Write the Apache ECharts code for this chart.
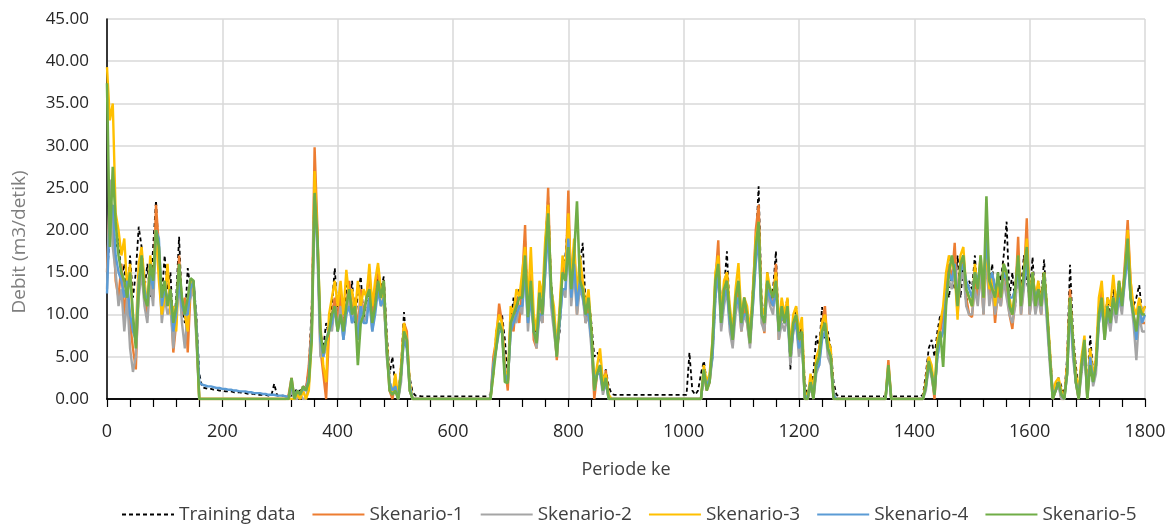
<!DOCTYPE html>
<html>
<head>
<meta charset="utf-8">
<script src="https://cdn.jsdelivr.net/npm/echarts@6/dist/echarts.min.js"></script>
<style>
  html, body { margin: 0; padding: 0; background: #fff; }
  #chart { width: 1172px; height: 526px; }
</style>
</head>
<body>
<div id="chart"></div>
<script>
// one value every 5 periods, 0 .. 1800
const step = 5;
const xTicks = [0, 200, 400, 600, 800, 1000, 1200, 1400, 1600, 1800];
const yTicks = [0, 5, 10, 15, 20, 25, 30, 35, 40, 45];

const training = [
    14, 20, 21, 18, 19, 14, 16, 11, 17, 12, 15, 20.4, 18, 13, 16, 12, 18, 23.5, 17, 12,
    17, 13, 15, 8, 12, 19.2, 11, 9, 15.5, 13, 14, 10, 3, 1.4, 1.3, 1.2, 1.2, 1.1, 1.1, 1.0,
    1.0, 0.9, 0.9, 0.9, 0.8, 0.8, 0.8, 0.7, 0.7, 0.6, 0.6, 0.6, 0.5, 0.5, 0.5, 0.5, 0.4, 0.4, 1.8, 0.4,
    0.4, 0.4, 0.3, 0.3, 0.4, 0.8, 1.2, 0.9, 1.5, 1.2, 3.5, 11, 26, 18, 8, 6, 9, 7.5, 11, 15.5,
    10, 12.5, 9, 13.5, 11, 14, 9, 12.5, 14.5, 9.5, 11.5, 13, 9, 12, 15, 13, 14.5, 8, 3, 5,
    1.5, 0.5, 4, 10.3, 6, 2.5, 0.8, 0.4, 0.4, 0.3, 0.3, 0.3, 0.3, 0.3, 0.3, 0.3, 0.3, 0.3, 0.3, 0.3,
    0.3, 0.3, 0.3, 0.3, 0.3, 0.3, 0.3, 0.3, 0.3, 0.3, 0.3, 0.3, 0.3, 0.5, 3, 8, 9, 10, 7, 2.5,
    9, 12, 10, 13, 11, 19, 10, 16, 9, 7, 12, 10, 18, 24, 14, 10, 6, 8, 15, 17,
    22, 13, 16, 12, 16, 18.5, 11, 12, 9, 5, 5.5, 5, 2, 3.5, 1.5, 0.6, 0.5, 0.5, 0.5, 0.5,
    0.5, 0.5, 0.5, 0.5, 0.5, 0.5, 0.5, 0.5, 0.5, 0.5, 0.5, 0.5, 0.5, 0.5, 0.5, 0.5, 0.5, 0.5, 0.5, 0.5,
    0.5, 0.5, 5.5, 1, 0.5, 1, 3, 4.5, 2, 3, 5, 12, 17, 11, 13, 17.5, 10, 6.5, 12, 14,
    9, 12, 10, 7, 13, 18, 25.2, 12, 9, 15, 11, 13, 17.5, 8, 11, 10, 12, 3.5, 9, 11,
    7, 9, 2, 0.5, 1, 3, 7.5, 6, 10.9, 7, 8, 6, 2, 0.5, 0.3, 0.3, 0.3, 0.3, 0.3, 0.3,
    0.3, 0.3, 0.3, 0.3, 0.3, 0.3, 0.3, 0.3, 0.3, 0.3, 0.3, 3, 0.5, 0.3, 0.3, 0.3, 0.3, 0.3, 0.3, 0.3,
    0.3, 0.3, 0.3, 0.5, 3, 6, 7, 5, 8, 10, 9, 14, 12, 15, 13, 17, 12, 16, 11, 14,
    13, 17, 12, 15, 11, 18, 13, 16, 12, 15, 14, 17, 21, 12, 15, 11, 16, 13, 17, 14,
    12, 16.8, 11, 14, 12, 16.5, 11, 6, 1, 1.5, 2.5, 1.5, 0.5, 5, 15.9, 8, 4, 1, 3, 6,
    1, 7.5, 3, 5, 11, 13, 9, 12, 10, 13, 11, 14, 12, 15, 18, 13, 11, 12, 13.5, 10,
    11
];

const skenario1 = [
    15, 24, 22, 14, 12, 16, 10, 13, 9, 6, 3.5, 14, 17, 12, 10, 15, 12, 23, 18, 10,
    14, 11, 13, 5.5, 9, 17, 10, 12, 5.5, 13, 14, 8, 0, 0, 0, 0, 0, 0, 0, 0,
    0, 0, 0, 0, 0, 0, 0, 0, 0, 0, 0, 0, 0, 0, 0, 0, 0, 0, 0, 0,
    0, 0, 0, 0.5, 2.5, 0, 1, 0.5, 1.5, 1, 4, 9, 29.8, 20, 6, 3, 0, 8, 10, 12,
    9, 13, 8, 11, 14, 10, 12, 8, 13, 10, 12, 15, 10, 13, 15.5, 12, 14, 6, 1, 0,
    2, 0, 3, 9, 8, 1, 0, 0, 0, 0, 0, 0, 0, 0, 0, 0, 0, 0, 0, 0,
    0, 0, 0, 0, 0, 0, 0, 0, 0, 0, 0, 0, 0, 0, 5, 7, 11.3, 9, 4, 1,
    10, 8, 12, 9, 14, 20.6, 9, 15, 7, 6, 13, 9, 17, 25, 12, 9, 4.6, 10, 16, 14,
    24.7, 12, 18, 10, 15, 13, 9, 11, 7, 0, 3, 4, 1, 3.4, 0, 0, 0, 0, 0, 0,
    0, 0, 0, 0, 0, 0, 0, 0, 0, 0, 0, 0, 0, 0, 0, 0, 0, 0, 0, 0,
    0, 0, 0, 0, 0, 0, 0, 3, 1, 2, 6, 14, 18.8, 9, 12, 15, 9, 7, 11, 13,
    8, 11, 9, 6.5, 12, 20, 23, 10, 7.8, 14, 12, 11, 16, 7, 10, 9, 11, 5, 8, 10,
    6, 8, 0, 0, 2, 0, 4, 5, 9, 11, 6, 5, 0, 0, 0, 0, 0, 0, 0, 0,
    0, 0, 0, 0, 0, 0, 0, 0, 0, 0, 0, 4.6, 0, 0, 0, 0, 0, 0, 0, 0,
    0, 0, 0, 0, 2, 5, 3, 0, 6, 8, 10, 13, 16, 14, 18.5, 11, 15, 17, 12, 10,
    9.7, 14, 12, 16, 10, 19, 12, 14, 9, 13, 11, 15, 13, 10, 8.3, 12, 19.2, 10, 14, 21.4,
    10, 14, 11, 13, 10, 15, 10, 5, 0, 1, 2, 0, 0, 4, 13, 6, 2, 0, 4, 7,
    0, 5, 2, 4, 10, 13, 8, 11, 9, 12, 10, 13, 11, 16, 21.2, 14, 10, 8, 11, 9,
    9
];

const skenario2 = [
    13, 26, 18, 15, 11, 13, 8, 12, 6, 3.2, 5, 12, 15, 11, 9, 14, 11, 19, 16, 9,
    12, 10, 11, 6, 10, 14, 9, 6, 11, 12, 13, 7, 0, 0, 0, 0, 0, 0, 0, 0,
    0, 0, 0, 0, 0, 0, 0, 0, 0, 0, 0, 0, 0, 0, 0, 0, 0, 0, 0, 0,
    0, 0, 0, 0, 1, 0, 0, 0.5, 0, 0, 2, 8, 25, 17, 5, 5, 6, 9, 8, 11,
    8, 11, 7, 10, 12, 9, 11, 7, 12, 9, 10, 12, 8, 11, 13, 11, 12, 5, 2, 1,
    1, 0, 2, 8, 6, 1, 0, 0, 0, 0, 0, 0, 0, 0, 0, 0, 0, 0, 0, 0,
    0, 0, 0, 0, 0, 0, 0, 0, 0, 0, 0, 0, 0, 0, 4, 6, 9, 8, 3, 2,
    8, 10, 9, 11, 10, 16, 8, 13, 8, 6, 10, 9, 15, 21, 11, 8, 5, 9, 13, 12,
    20, 11, 15, 10, 13, 12, 9, 10, 6, 1, 3, 3, 0.5, 2, 0, 0, 0, 0, 0, 0,
    0, 0, 0, 0, 0, 0, 0, 0, 0, 0, 0, 0, 0, 0, 0, 0, 0, 0, 0, 0,
    0, 0, 0, 0, 0, 0, 0, 3, 1.5, 2, 5, 12, 15, 8, 11, 13, 8, 6, 10, 12,
    8, 10, 9, 6, 11, 17, 20, 9, 8, 13, 11, 10, 14, 7, 9, 8, 10, 4, 8, 9,
    5, 7, 0, 0, 1.5, 0, 3, 4, 8, 9, 5, 4, 0, 0, 0, 0, 0, 0, 0, 0,
    0, 0, 0, 0, 0, 0, 0, 0, 0, 0, 0, 3.5, 0, 0, 0, 0, 0, 0, 0, 0,
    0, 0, 0, 0, 1, 4, 2.5, 0.5, 5, 7, 8, 12, 14, 13, 16, 10, 14, 15, 11, 10,
    10, 13, 11, 15, 10, 17, 11, 13, 10, 12, 11, 14, 12, 10, 9, 11, 16, 10, 13, 17,
    10, 13, 10, 12, 10, 14, 9, 4, 0, 1, 1.5, 0, 0, 3, 11, 5, 2, 0, 3, 6,
    0, 5, 1.5, 3, 9, 11, 7, 10, 8, 11, 9, 12, 10, 14, 18, 12, 9, 4.6, 10, 8,
    8
];

const skenario3 = [
    39.3, 33, 35, 22, 20, 17, 19, 13, 16, 9, 8, 16, 18, 14, 11, 17, 13, 20, 14, 10,
    12, 16, 10, 11, 8, 15, 12, 10, 8, 14, 13, 9, 0, 0, 0, 0, 0, 0, 0, 0,
    0, 0, 0, 0, 0, 0, 0, 0, 0, 0, 0, 0, 0, 0, 0, 0, 0, 0, 0, 0,
    0, 0, 0, 0, 0, 0, 0.5, 0, 1, 0, 1, 7, 27, 19, 9, 4, 2, 10, 12, 14,
    11, 14, 10, 15.3, 12, 13, 10, 14, 11, 13, 12, 16, 11, 14, 16.1, 13, 11, 7, 2, 0.5,
    3, 0, 4, 9, 7, 2, 0, 0, 0, 0, 0, 0, 0, 0, 0, 0, 0, 0, 0, 0,
    0, 0, 0, 0, 0, 0, 0, 0, 0, 0, 0, 0, 0, 0, 3, 8, 10, 9, 3.5, 2,
    11, 10, 13, 12, 15, 18, 11, 18, 10, 8, 14, 12, 19, 23, 13, 11, 6, 11, 17, 15,
    22, 14, 19, 12, 17, 14, 11, 13, 8, 2, 4, 6, 2, 3, 0.5, 0, 0, 0, 0, 0,
    0, 0, 0, 0, 0, 0, 0, 0, 0, 0, 0, 0, 0, 0, 0, 0, 0, 0, 0, 0,
    0, 0, 0, 0, 0, 0, 0, 4, 2, 3, 7, 15, 17, 10, 14, 15, 11, 8, 13, 16.1,
    10, 12, 11, 8, 13, 19, 21, 11, 10, 15, 13, 12, 15, 9, 12, 10, 12, 6, 10, 11,
    8, 9.7, 1, 0, 3, 1, 5, 6, 9, 10, 7, 6, 0.5, 0, 0, 0, 0, 0, 0, 0,
    0, 0, 0, 0, 0, 0, 0, 0, 0, 0, 0, 4, 0, 0, 0, 0, 0, 0, 0, 0,
    0, 0, 0, 0, 2, 5, 4, 1, 7, 9, 11, 15, 17, 16, 15, 9.4, 17, 18, 13, 12,
    11, 16, 13, 17, 12, 18, 13, 15, 11, 14, 12, 16, 14, 12, 10, 13, 17, 12, 15, 19,
    12, 15, 12, 14, 11, 15, 11, 6, 0.5, 2, 2.5, 1, 0, 4, 12, 7, 3, 1, 5, 7.5,
    0.5, 6, 2.5, 5, 12, 14, 9, 12, 11, 14.7, 11, 14, 12, 15, 20, 14, 11, 10, 12, 10,
    11
];

const skenario4 = [
    12.5, 22, 23, 17, 15, 14, 12, 14, 10, 8, 7, 14, 16, 13, 11, 15, 13, 20, 19, 11,
    13, 12, 12, 8, 10, 14, 11, 10, 10, 13, 14, 9, 2, 1.7, 1.6, 1.5, 1.5, 1.4, 1.3, 1.3,
    1.2, 1.2, 1.1, 1.1, 1.0, 1.0, 0.9, 0.9, 0.9, 0.8, 0.8, 0.7, 0.7, 0.7, 0.6, 0.6, 0.5, 0.5, 0.5, 0.4,
    0.4, 0.4, 0.3, 0.3, 1.5, 0.4, 1, 0.6, 1.2, 1, 2.5, 8, 24, 18, 7, 5, 7, 8, 9, 11,
    8, 10, 7, 10, 11, 9, 10, 7, 11, 9, 9, 12, 8, 10, 13, 11, 12, 6, 2, 1,
    1.5, 0, 3, 7, 6, 1.5, 0, 0, 0, 0, 0, 0, 0, 0, 0, 0, 0, 0, 0, 0,
    0, 0, 0, 0, 0, 0, 0, 0, 0, 0, 0, 0, 0, 0, 4, 6, 8, 8, 3, 2,
    8, 9, 10, 11, 11, 15, 9, 12, 8, 7, 10, 10, 15, 20, 12, 9, 6, 9, 13, 13,
    19, 12, 16, 11, 14, 12, 10, 10, 7, 2, 3, 3, 1, 2, 0, 0, 0, 0, 0, 0,
    0, 0, 0, 0, 0, 0, 0, 0, 0, 0, 0, 0, 0, 0, 0, 0, 0, 0, 0, 0,
    0, 0, 0, 0, 0, 0, 0, 3, 1.5, 2.5, 5, 12, 15, 9, 12, 13, 9, 7, 11, 12,
    9, 10, 10, 7, 11, 16, 19, 10, 9, 13, 12, 11, 13, 8, 10, 9, 10, 5, 8, 9,
    6, 7, 0.5, 0, 2, 0.5, 3.5, 4, 7, 8, 6, 5, 0.5, 0, 0, 0, 0, 0, 0, 0,
    0, 0, 0, 0, 0, 0, 0, 0, 0, 0, 0, 3.5, 0, 0, 0, 0, 0, 0, 0, 0,
    0, 0, 0, 0, 1.5, 4, 3, 1, 5, 7, 8, 12, 15, 14, 16, 12, 15, 16, 14, 13,
    12, 15, 14, 16, 13, 19, 14, 15, 13, 14, 13, 15, 14, 12, 12, 13, 15, 12, 14, 16,
    12, 14, 12, 13, 11, 14, 10, 5, 0.5, 1, 2, 0.5, 0, 3, 11, 6, 2, 0.5, 4, 6,
    0.5, 5, 2, 4, 9, 11, 8, 10, 9, 12, 10, 12, 11, 14, 17, 12, 10, 7, 11, 9,
    10
];

const skenario5 = [
    37.4, 18, 27.5, 21, 17, 15, 14, 12, 15, 10, 6, 13, 17, 12, 11, 16, 14, 20, 18, 12,
    14, 11, 13, 9, 11, 16, 12, 10, 12, 14.3, 14, 8, 0, 0, 0, 0, 0, 0, 0, 0,
    0, 0, 0, 0, 0, 0, 0, 0, 0, 0, 0, 0, 0, 0, 0, 0, 0, 0, 0, 0,
    0, 0, 0, 0, 2.5, 0, 1, 0.5, 1.5, 1, 2, 7, 24.4, 19, 8, 5.4, 7, 8, 10, 11,
    8, 10, 8, 11, 13, 10, 11, 4, 9, 10, 12, 13, 9, 11, 14, 12, 14, 6, 1, 0.5,
    1, 0, 3, 8, 7, 1, 0, 0, 0, 0, 0, 0, 0, 0, 0, 0, 0, 0, 0, 0,
    0, 0, 0, 0, 0, 0, 0, 0, 0, 0, 0, 0, 0, 0, 3, 6, 9, 8, 2, 1.9,
    9, 10, 11, 12, 12, 17, 9.7, 14, 8, 6.6, 12.6, 10, 17, 22, 13.7, 9, 5, 10, 15, 14,
    18, 13, 17, 23.4, 14, 13, 10, 12, 8, 1, 3, 4, 1, 2.5, 0, 0, 0, 0, 0, 0,
    0, 0, 0, 0, 0, 0, 0, 0, 0, 0, 0, 0, 0, 0, 0, 0, 0, 0, 0, 0,
    0, 0, 0, 0, 0, 0, 0, 3.5, 1, 2, 6.6, 14, 16, 9, 13, 14, 10, 7, 12, 14,
    9, 12, 10, 6.6, 12, 18, 21, 10, 9, 14, 13, 12, 14, 8, 11, 9, 11, 5, 9, 10,
    7, 8, 0, 0, 2, 0, 4, 5, 8, 9, 6, 5, 0, 0, 0, 0, 0, 0, 0, 0,
    0, 0, 0, 0, 0, 0, 0, 0, 0, 0, 0, 4, 0, 0, 0, 0, 0, 0, 0, 0,
    0, 0, 0, 0, 1.5, 4.5, 3, 0.5, 6, 8, 3.8, 11, 15, 17, 15, 11, 16, 17, 13, 12,
    11, 15, 13, 17, 12, 24, 14, 13, 12, 15, 12, 16, 15, 11, 10, 13, 17, 11, 15, 18,
    11, 15, 11, 13, 11, 15, 10.7, 5, 0, 1, 2, 0.5, 0, 3, 12, 7, 2, 0, 4, 7,
    0, 4, 2, 4, 10, 12, 7, 11, 9, 12, 10, 14, 11, 15, 19, 12, 10, 8, 11, 10,
    10
];

const font = '"Open Sans", "Liberation Sans", sans-serif';

function pairs(values) {
    return values.map((v, i) => [i * step, v]);
}

function lineSeries(name, values, color, width, dashed) {
    return {
        name: name,
        type: 'line',
        data: pairs(values),
        symbol: 'none',
        showSymbol: false,
        lineStyle: {
            color: color,
            width: width,
            type: dashed ? [4, 3] : 'solid',
        },
        itemStyle: { color: color },
        emphasis: { disabled: true },
    };
}

const chart = echarts.init(document.getElementById('chart'));

const option = {
    animation: false,
    backgroundColor: '#ffffff',
    textStyle: { fontFamily: font },
    grid: { left: 107, right: 27, top: 19, bottom: 127, containLabel: false },
    legend: {
        left: 116,
        top: 500,
        itemWidth: 52,
        itemHeight: 14,
        itemGap: 16,
        itemStyle: { opacity: 0 },
        textStyle: { fontSize: 19, color: '#404040', fontFamily: font },
        data: ['Training data', 'Skenario-1', 'Skenario-2', 'Skenario-3', 'Skenario-4', 'Skenario-5'],
    },
    xAxis: [
        {
            // bottom axis: a tick every 40, a label every 200
            type: 'value',
            min: xTicks[0],
            max: xTicks[xTicks.length - 1],
            interval: 40,
            name: 'Periode ke',
            nameLocation: 'middle',
            nameGap: 62,
            nameTextStyle: { fontSize: 18, color: '#404040', fontFamily: font },
            axisLine: { show: true, lineStyle: { color: '#000', width: 1.5 } },
            axisTick: { show: true, length: 8, lineStyle: { color: '#000', width: 1.2 } },
            axisLabel: {
                margin: 24,
                fontSize: 18,
                color: '#262626',
                fontFamily: font,
                formatter: v => (xTicks.indexOf(v) >= 0 ? String(v) : ''),
            },
            splitLine: { show: false },
        },
        {
            // top frame line, also carries the vertical gridlines every 200
            type: 'value',
            position: 'top',
            min: xTicks[0],
            max: xTicks[xTicks.length - 1],
            interval: 200,
            axisLine: { show: true, lineStyle: { color: '#000', width: 1.5 } },
            axisTick: { show: false },
            axisLabel: { show: false },
            splitLine: { show: true, lineStyle: { color: '#d9d9d9', width: 1.5 } },
        },
    ],
    yAxis: [
        {
            type: 'value',
            min: yTicks[0],
            max: yTicks[yTicks.length - 1],
            interval: 5,
            axisLine: { show: true, lineStyle: { color: '#d9d9d9', width: 1.5 } },
            axisTick: { show: false },
            axisLabel: {
                margin: 18,
                fontSize: 17,
                color: '#262626',
                fontFamily: font,
                formatter: v => v.toFixed(2),
            },
            splitLine: { show: true, lineStyle: { color: '#d9d9d9', width: 1.5 } },
        },
        {
            type: 'value',
            position: 'right',
            min: yTicks[0],
            max: yTicks[yTicks.length - 1],
            axisLine: { show: true, lineStyle: { color: '#000', width: 1.5 } },
            axisTick: { show: false },
            axisLabel: { show: false },
            splitLine: { show: false },
        },
    ],
    graphic: [
        {
            type: 'text',
            x: 20,
            y: 242,
            rotation: Math.PI / 2,
            style: {
                text: 'Debit (m3/detik)',
                fontSize: 19,
                fontFamily: font,
                fill: '#7f7f7f',
                align: 'center',
                verticalAlign: 'middle',
            },
        },
    ],
    series: [
        lineSeries('Training data', training, '#000000', 1.8, true),
        lineSeries('Skenario-1', skenario1, '#ED7D31', 2.4),
        lineSeries('Skenario-2', skenario2, '#A5A5A5', 2.4),
        lineSeries('Skenario-3', skenario3, '#FFC000', 2.4),
        lineSeries('Skenario-4', skenario4, '#5B9BD5', 2.4),
        lineSeries('Skenario-5', skenario5, '#70AD47', 2.6),
    ],
};

chart.setOption(option);
</script>
</body>
</html>
